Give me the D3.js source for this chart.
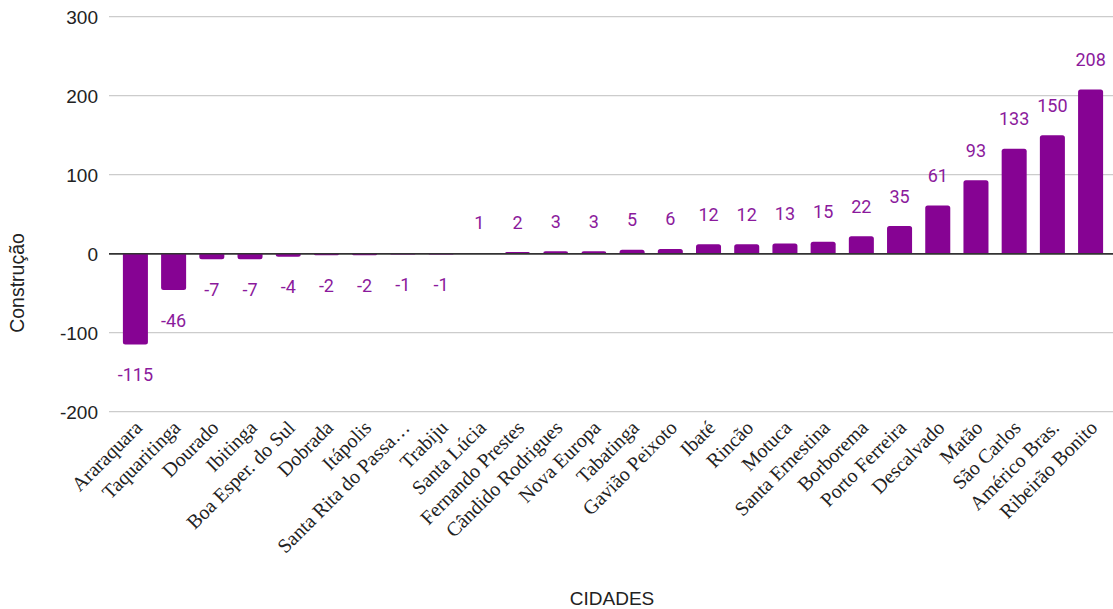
<!DOCTYPE html>
<html>
<head>
<meta charset="utf-8">
<script src="https://cdn.jsdelivr.net/npm/d3@7/dist/d3.min.js"></script>
<style>
  html, body { margin: 0; padding: 0; background: #fff; }
  svg { display: block; }
</style>
</head>
<body>
<svg id="chart" width="1113" height="609"></svg>
<script>
// Cities and their construction balance
const cidades = [
  "Araraquara", "Taquaritinga", "Dourado", "Ibitinga", "Boa Esper. do Sul",
  "Dobrada", "Itápolis", "Santa Rita do Passa…", "Trabiju", "Santa Lúcia",
  "Fernando Prestes", "Cândido Rodrigues", "Nova Europa", "Tabatinga",
  "Gavião Peixoto", "Ibaté", "Rincão", "Motuca", "Santa Ernestina",
  "Borborema", "Porto Ferreira", "Descalvado", "Matão", "São Carlos",
  "Américo Bras.", "Ribeirão Bonito"
];
const construcao = [
  -115, -46, -7, -7, -4, -2, -2, -1, -1, 1, 2, 3, 3, 5, 6,
  12, 12, 13, 15, 22, 35, 61, 93, 133, 150, 208
];
const yTicks = [-200, -100, 0, 100, 200, 300];

const svg = d3.select("#chart");
const W = 1113;
const plotLeft = 109, plotRight = W;

const x = d3.scaleBand()
  .domain(cidades)
  .range([116.4, 1109.6])
  .paddingInner(0.345)
  .paddingOuter(0.17);

const y = d3.scaleLinear()
  .domain([-200, 300])
  .range([411.7, 16.7]);

// Horizontal gridlines
svg.append("g")
  .selectAll("line")
  .data(yTicks)
  .join("line")
  .attr("x1", plotLeft)
  .attr("x2", plotRight)
  .attr("y1", d => y(d))
  .attr("y2", d => y(d))
  .attr("stroke", d => d === 0 ? "#333" : "#ccc")
  .attr("stroke-width", d => d === 0 ? 1.4 : 1.3);

// Y tick labels
svg.append("g")
  .selectAll("text")
  .data(yTicks)
  .join("text")
  .attr("x", 98)
  .attr("y", d => y(d))
  .attr("dy", "0.36em")
  .attr("text-anchor", "end")
  .attr("font-family", "Arial, 'Liberation Sans', sans-serif")
  .attr("font-size", 19)
  .attr("fill", "#222")
  .text(d => d);

// Bars with slightly rounded ends
const barColor = "#860393";
const bw = x.bandwidth();
const r = 2.5;
svg.append("g")
  .selectAll("path")
  .data(construcao)
  .join("path")
  .attr("fill", barColor)
  .attr("d", (v, i) => {
    const x0 = x(cidades[i]);
    const y0 = y(0);
    const y1 = y(v);
    const h = Math.abs(y1 - y0);
    const rr = Math.min(r, h);
    if (h < 0.01) return "";
    if (v >= 0) {
      return `M${x0},${y0} V${y1 + rr} Q${x0},${y1} ${x0 + rr},${y1} H${x0 + bw - rr} Q${x0 + bw},${y1} ${x0 + bw},${y1 + rr} V${y0} Z`;
    }
    return `M${x0},${y0} V${y1 - rr} Q${x0},${y1} ${x0 + rr},${y1} H${x0 + bw - rr} Q${x0 + bw},${y1} ${x0 + bw},${y1 - rr} V${y0} Z`;
  });

// Redraw the zero line over bar bases
svg.append("line")
  .attr("x1", plotLeft).attr("x2", plotRight)
  .attr("y1", y(0)).attr("y2", y(0))
  .attr("stroke", "#333").attr("stroke-width", 1.4);

// Value labels
svg.append("g")
  .selectAll("text")
  .data(construcao)
  .join("text")
  .attr("x", (v, i) => x(cidades[i]) + bw / 2)
  .attr("y", v => v >= 0 ? y(v) - 30 : y(v) + 30)
  .attr("dy", "0.36em")
  .attr("text-anchor", "middle")
  .attr("font-family", "Roboto, sans-serif")
  .attr("font-size", 18)
  .attr("fill", "#8b1a9c")
  .text(v => v);

// Category labels, rotated
svg.append("g")
  .selectAll("text")
  .data(cidades)
  .join("text")
  .attr("transform", d => `translate(${x(d) + bw / 2 + 3},424) rotate(-45)`)
  .attr("dy", "0.35em")
  .attr("text-anchor", "end")
  .attr("font-family", "'Liberation Serif', 'Times New Roman', serif")
  .attr("font-size", 20)
  .attr("fill", "#222")
  .text(d => d);

// Axis titles
svg.append("text")
  .attr("x", 612)
  .attr("y", 605)
  .attr("text-anchor", "middle")
  .attr("font-family", "Arial, 'Liberation Sans', sans-serif")
  .attr("font-size", 19)
  .attr("fill", "#222")
  .text("CIDADES");

svg.append("text")
  .attr("transform", "translate(24,283) rotate(-90)")
  .attr("text-anchor", "middle")
  .attr("font-family", "Arial, 'Liberation Sans', sans-serif")
  .attr("font-size", 19.5)
  .attr("fill", "#222")
  .text("Construção");
</script>
</body>
</html>
